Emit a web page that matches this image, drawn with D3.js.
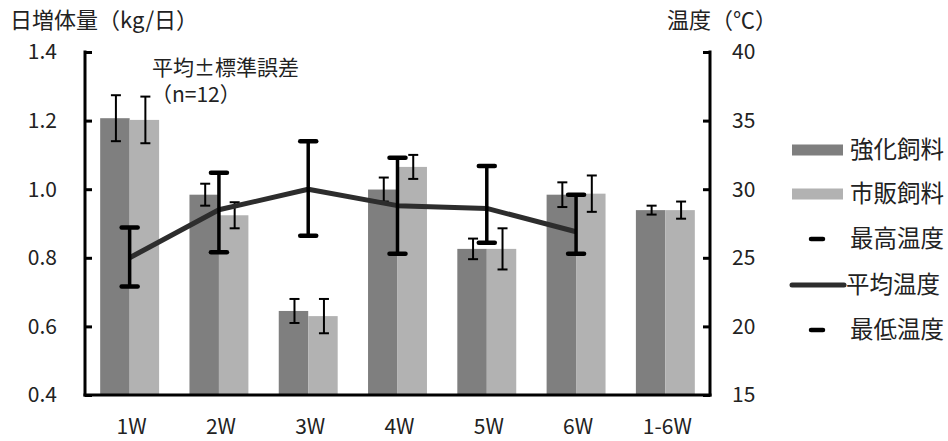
<!DOCTYPE html>
<html><head><meta charset="utf-8">
<script src="https://cdn.jsdelivr.net/npm/d3@7"></script>
<style>
body{margin:0;background:#fff;}
text{font-family:"Noto Sans CJK JP","Noto Sans",sans-serif;fill:#222;}
</style></head>
<body><svg id="c" width="948" height="441"></svg>
<script>
const categories = ["1W","2W","3W","4W","5W","6W","1-6W"];
const gainFortified = [1.207,0.984,0.645,0.999,0.826,0.984,0.939];
const seFortified   = [0.067,0.032,0.035,0.035,0.030,0.036,0.013];
const gainCommercial= [1.202,0.924,0.630,1.065,0.826,0.987,0.939];
const seCommercial  = [0.068,0.038,0.050,0.035,0.060,0.053,0.025];
const tempMax  = [27.2,31.2,33.5,32.3,31.7,29.6];
const tempMean = [25.0,28.5,30.0,28.8,28.6,26.9];
const tempMin  = [22.9,25.4,26.6,25.3,26.1,25.3];
const leftTicks = [0.4,0.6,0.8,1.0,1.2,1.4];
const rightTicks = [15,20,25,30,35,40];
const seriesNames = ["強化飼料","市販飼料","最高温度","平均温度","最低温度"];
const colors = ["#7f7f7f","#b2b2b2"];

const svg = d3.select("#c");
const x0 = 85, x1 = 710, yB = 395, yT = 52;
const x = d3.scaleBand().domain(categories).range([x0,x1]).paddingInner(0.34).paddingOuter(0.17);
const yL = d3.scaleLinear().domain([0.4,1.4]).range([yB,yT]);
const yR = d3.scaleLinear().domain([15,40]).range([yB,yT]);
const bw = x.bandwidth()/2;

const data = categories.map((c,i)=>({c,v:[gainFortified[i],gainCommercial[i]],se:[seFortified[i],seCommercial[i]]}));
const g = svg.append("g");
data.forEach(d=>{
  [0,1].forEach(k=>{
    g.append("rect").attr("x",x(d.c)+k*bw).attr("width",bw)
     .attr("y",yL(d.v[k])).attr("height",yB-yL(d.v[k])).attr("fill",colors[k]);
  });
});
// bar error bars
data.forEach(d=>{
  [0,1].forEach(k=>{
    const xc = x(d.c)+k*bw+bw/2+1;
    const hi = yL(d.v[k]+d.se[k]), lo = yL(d.v[k]-d.se[k]);
    const eg = g.append("g").attr("stroke","#000").attr("stroke-width",2);
    eg.append("line").attr("x1",xc).attr("x2",xc).attr("y1",hi).attr("y2",lo);
    eg.append("line").attr("x1",xc-5).attr("x2",xc+5).attr("y1",hi).attr("y2",hi);
    eg.append("line").attr("x1",xc-5).attr("x2",xc+5).attr("y1",lo).attr("y2",lo);
  });
});
// mean temp line
const tcats = categories.slice(0,6);
const cx = c => x(c)+x.bandwidth()/2;
g.append("path").datum(tcats.map((c,i)=>[cx(c),yR(tempMean[i])]))
 .attr("d",d3.line()).attr("fill","none").attr("stroke","#2d2d2d").attr("stroke-width",5).attr("stroke-linejoin","round");
// temp high-low bars
tcats.forEach((c,i)=>{
  const xc = cx(c), hi=yR(tempMax[i]), lo=yR(tempMin[i]);
  const eg = g.append("g").attr("stroke","#000");
  eg.append("line").attr("x1",xc).attr("x2",xc).attr("y1",hi).attr("y2",lo).attr("stroke-width",3.5);
  eg.append("line").attr("x1",xc-8).attr("x2",xc+8).attr("y1",hi).attr("y2",hi).attr("stroke-width",4.5).attr("stroke-linecap","round");
  eg.append("line").attr("x1",xc-8).attr("x2",xc+8).attr("y1",lo).attr("y2",lo).attr("stroke-width",4.5).attr("stroke-linecap","round");
});

// axes
const axL = svg.append("g").attr("transform",`translate(${x0},0)`)
 .call(d3.axisRight(yL).tickValues(leftTicks).tickSize(7).tickFormat(d3.format(".1f")));
const axR = svg.append("g").attr("transform",`translate(${x1},0)`)
 .call(d3.axisLeft(yR).tickValues(rightTicks).tickSize(7).tickFormat(d3.format("d")));
[axL,axR].forEach(a=>{
  a.select(".domain").remove();
  a.selectAll("line").attr("stroke","#000").attr("stroke-width",3);
  a.selectAll("text").remove();
});
svg.append("line").attr("x1",x0).attr("x2",x0).attr("y1",yT-1.5).attr("y2",yB+1.5).attr("stroke","#000").attr("stroke-width",3);
svg.append("line").attr("x1",x1).attr("x2",x1).attr("y1",yT-1.5).attr("y2",yB+1.5).attr("stroke","#000").attr("stroke-width",3);
svg.append("line").attr("x1",x0-1.5).attr("x2",x1+1.5).attr("y1",yB).attr("y2",yB).attr("stroke","#000").attr("stroke-width",3);

const fs = 21;
svg.append("g").selectAll("text").data(leftTicks).join("text")
 .attr("x",57).attr("y",d=>yL(d)).attr("dy","0.35em").attr("text-anchor","end").attr("font-size",fs)
 .text(d3.format(".1f"));
svg.append("g").selectAll("text").data(rightTicks).join("text")
 .attr("x",732).attr("y",d=>yR(d)).attr("dy","0.35em").attr("font-size",fs).text(d=>d);
svg.append("g").selectAll("text").data(categories).join("text")
 .attr("x",d=>cx(d)+2).attr("y",427).attr("dy","0.35em").attr("text-anchor","middle").attr("font-size",fs).text(d=>d);

svg.append("text").attr("x",10).attr("y",20).attr("dy","0.35em").attr("font-size",22).text("日増体量（kg/日）");
svg.append("text").attr("x",667).attr("y",20).attr("dy","0.35em").attr("font-size",22).text("温度（℃）");
svg.append("text").attr("x",152).attr("y",68).attr("dy","0.35em").attr("font-size",fs).text("平均±標準誤差");
svg.append("text").attr("x",151).attr("y",95).attr("dy","0.35em").attr("font-size",fs).text("（n=12）");

// legend
const ly = [150,194,239,285,330];
const lg = svg.append("g");
lg.append("rect").attr("x",792).attr("y",ly[0]-5.5).attr("width",51).attr("height",11).attr("fill",colors[0]);
lg.append("rect").attr("x",792).attr("y",ly[1]-5.5).attr("width",51).attr("height",11).attr("fill",colors[1]);
lg.append("line").attr("x1",811).attr("x2",823).attr("y1",ly[2]).attr("y2",ly[2]).attr("stroke","#000").attr("stroke-width",4.5).attr("stroke-linecap","round");
lg.append("line").attr("x1",792).attr("x2",844).attr("y1",ly[3]).attr("y2",ly[3]).attr("stroke","#2d2d2d").attr("stroke-width",5).attr("stroke-linecap","round");
lg.append("line").attr("x1",811).attr("x2",823).attr("y1",ly[4]).attr("y2",ly[4]).attr("stroke","#000").attr("stroke-width",4.5).attr("stroke-linecap","round");
lg.selectAll("text").data(seriesNames).join("text")
 .attr("x",(d,i)=>i===3?846:850).attr("y",(d,i)=>ly[i]).attr("dy","0.35em").attr("font-size",23.5).text(d=>d);
</script></body></html>
